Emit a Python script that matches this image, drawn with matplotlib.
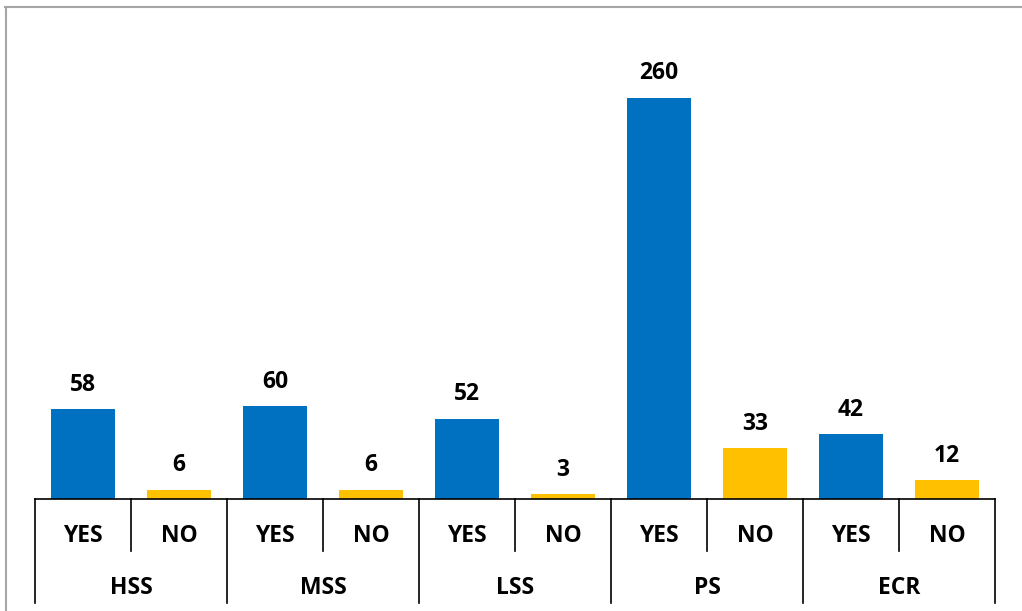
import matplotlib
matplotlib.use("Agg")
import matplotlib.pyplot as plt
from matplotlib.lines import Line2D
import matplotlib.transforms as mtransforms

groups = ["HSS", "MSS", "LSS", "PS", "ECR"]
answers = ["YES", "NO"]
yes_values = [58, 60, 52, 260, 42]
no_values = [6, 6, 3, 33, 12]

blue = "#0070C0"
yellow = "#FFC000"
font = "Open Sans"
fs = 16.5

W, H = 1022, 611
fig = plt.figure(figsize=(W / 100, H / 100), dpi=100)
ax = fig.add_axes([35 / W, (H - 499) / H, 960 / W, 463 / H])

xs, vals, cols, labs = [], [], [], []
for i, g in enumerate(groups):
    xs += [2 * i, 2 * i + 1]
    vals += [yes_values[i], no_values[i]]
    cols += [blue, yellow]
    labs += answers

bars = ax.bar(xs, vals, width=2 / 3, color=cols)
for b, v in zip(bars, vals):
    ax.text(b.get_x() + b.get_width() / 2, v + 8, str(v), ha="center", va="bottom",
            fontsize=fs, fontweight="bold", family=font)

ax.set_xlim(-0.5, 9.5)
ax.set_ylim(0, 300)
for s in ax.spines.values():
    s.set_visible(False)
ax.set_xticks([])
ax.set_yticks([])

trans = mtransforms.blended_transform_factory(ax.transData, ax.transAxes)
ax.add_line(Line2D([-0.5, 9.5], [0, 0], transform=trans, color="black", lw=1.2, clip_on=False))
for k in range(11):
    x = k - 0.5
    ybot = -0.2246 if k % 2 == 0 else -0.1123
    ax.add_line(Line2D([x, x], [0, ybot], transform=trans, color="black", lw=1.2, clip_on=False))

for x, l in zip(xs, labs):
    ax.text(x, -0.0790, l, transform=trans, ha="center", va="center",
            fontsize=fs, fontweight="bold", family=font)
for i, g in enumerate(groups):
    ax.text(2 * i + 0.5, -0.1920, g, transform=trans, ha="center", va="center",
            fontsize=fs, fontweight="bold", family=font)

# outer frame
fig.add_artist(Line2D([5 / W, 1], [1 - 7 / H, 1 - 7 / H], transform=fig.transFigure, color="#A6A6A6", lw=1.5))
fig.add_artist(Line2D([6 / W, 6 / W], [0, 1 - 7 / H], transform=fig.transFigure, color="#A6A6A6", lw=1.5))

fig.savefig("out.png", dpi=100)
